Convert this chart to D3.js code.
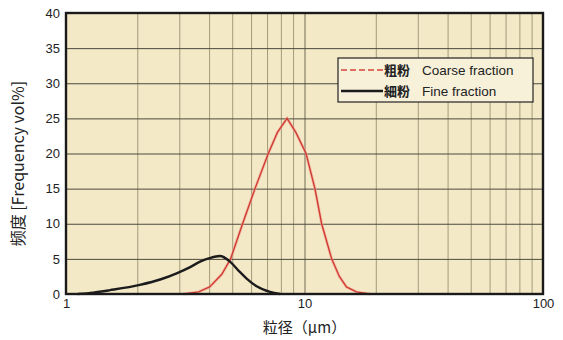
<!DOCTYPE html>
<html>
<head>
<meta charset="utf-8">
<script src="https://cdn.jsdelivr.net/npm/d3@7"></script>
<style>
	body { margin: 0; background: #fff; }
	text { font-family: "Liberation Sans", Arial, sans-serif; fill: #222; }
</style>
</head>
<body>
<div id="chart"></div>
<script>
// Data: [size in µm, frequency vol%]
const coarse = [
	[3.1, 0], [3.6, 0.3], [4.0, 1.0], [4.5, 2.8], [4.9, 5], [5.5, 10],
	[6.2, 15], [7.05, 20], [7.7, 23], [8.45, 25], [9.2, 23], [10.15, 20],
	[11.06, 15], [11.8, 10], [13.0, 5], [14.0, 2.5], [15.0, 1.0],
	[16.5, 0.3], [18.8, 0],
];
const fine = [
	[1.12, 0], [1.3, 0.2], [1.53, 0.55], [2.04, 1.3], [2.5, 2.1],
	[2.91, 2.95], [3.3, 3.8], [3.65, 4.6], [4.0, 5.1], [4.42, 5.4],
	[4.87, 4.6], [5.3, 3.3], [5.72, 2.2], [6.3, 1.1], [7.17, 0.3], [7.9, 0],
];
const yTicks = [0, 5, 10, 15, 20, 25, 30, 35, 40];
const xTicks = [1, 10, 100];
const legendItems = [
	{ jp: "粗粉", en: "Coarse fraction", color: "#d9443a", dash: "6,3", width: 1.6 },
	{ jp: "細粉", en: "Fine fraction", color: "#1c1c1c", dash: null, width: 2.4 },
];

const W = 563, H = 340;
const margin = { top: 13, right: 20, bottom: 46, left: 66 };
const width = W - margin.left - margin.right;
const height = H - margin.top - margin.bottom;

const svg = d3.select("#chart").append("svg")
	.attr("width", W).attr("height", H);

const g = svg.append("g")
	.attr("transform", `translate(${margin.left},${margin.top})`);

const x = d3.scaleLog().domain([1, 100]).range([0, width]);
const y = d3.scaleLinear().domain([0, 40]).range([height, 0]);

// background
g.append("rect")
	.attr("width", width).attr("height", height)
	.attr("fill", "#f4e9c7");

// minor vertical grid (log decades)
const minor = [];
for (let d = 1; d < 100; d *= 10)
	for (let k = 2; k <= 9; k++) minor.push(d * k);

g.append("g")
	.selectAll("line")
	.data(minor)
	.join("line")
	.attr("x1", (d) => x(d)).attr("x2", (d) => x(d))
	.attr("y1", 0).attr("y2", height)
	.attr("stroke", "#8f8868")
	.attr("stroke-width", 1)
	.attr("opacity", 0.8);

g.append("g")
	.attr("transform", `translate(0,${height})`)
	.call(d3.axisBottom(x).tickValues([10]).tickSize(-height).tickFormat(""))
	.call((s) => s.select(".domain").remove())
	.selectAll("line")
	.attr("stroke", "#6f6a55");

// horizontal grid
g.append("g")
	.call(d3.axisLeft(y).tickValues(yTicks.slice(1, -1)).tickSize(-width).tickFormat(""))
	.call((s) => s.select(".domain").remove())
	.selectAll("line")
	.attr("stroke", "#4d4a3e")
	.attr("stroke-width", 1);

// curves
const line = d3.line()
	.x((d) => x(d[0]))
	.y((d) => y(d[1]))
	.curve(d3.curveLinear);

g.append("path")
	.datum(coarse)
	.attr("d", line)
	.attr("fill", "none")
	.attr("stroke", "#f2a39a")
	.attr("stroke-width", 3)
	.attr("opacity", 0.6);

g.append("path")
	.datum(coarse)
	.attr("d", line)
	.attr("fill", "none")
	.attr("stroke", "#cf3d30")
	.attr("stroke-width", 1.4);

g.append("path")
	.datum(fine)
	.attr("d", d3.line().x((d) => x(d[0])).y((d) => y(d[1])).curve(d3.curveMonotoneX))
	.attr("fill", "none")
	.attr("stroke", "#1c1c1c")
	.attr("stroke-width", 2.4);

// frame
g.append("rect")
	.attr("width", width).attr("height", height)
	.attr("fill", "none")
	.attr("stroke", "#1a1a1a")
	.attr("stroke-width", 2.4);

// axes labels
const yAxis = g.append("g")
	.call(d3.axisLeft(y).tickValues(yTicks).tickSize(0).tickPadding(6));
yAxis.select(".domain").remove();
yAxis.selectAll("text")
	.style("font-size", "13px")
	.style("font-family", "Liberation Sans, Arial, sans-serif")
	.attr("fill", "#333");

const xAxis = g.append("g")
	.attr("transform", `translate(0,${height})`)
	.call(d3.axisBottom(x).tickValues(xTicks).tickFormat(d3.format("d")).tickSize(0).tickPadding(5));
xAxis.select(".domain").remove();
xAxis.selectAll("text")
	.style("font-size", "13px")
	.style("font-family", "Liberation Sans, Arial, sans-serif")
	.attr("fill", "#333");

svg.append("text")
	.attr("transform", `translate(24,${margin.top + height / 2 + 10}) rotate(-90)`)
	.attr("text-anchor", "middle")
	.style("font-size", "16px")
	.style("font-family", "'Noto Sans CJK SC', sans-serif")
	.text("频度 [Frequency vol%]");

svg.append("text")
	.attr("x", margin.left + width / 2)
	.attr("y", 333)
	.attr("text-anchor", "middle")
	.style("font-size", "15px")
	.style("font-family", "'Noto Sans CJK JP', sans-serif")
	.text("粒径（μm）");

// legend
const lg = g.append("g").attr("transform", `translate(${338 - margin.left},${58 - margin.top})`);
lg.append("rect")
	.attr("width", 195).attr("height", 44)
	.attr("fill", "#f8f1da")
	.attr("stroke", "#222")
	.attr("stroke-width", 1.2);

legendItems.forEach((d, i) => {
	const row = lg.append("g").attr("transform", `translate(0,${12 + i * 21})`);
	row.append("line")
		.attr("x1", 3).attr("x2", 45)
		.attr("stroke", d.color)
		.attr("stroke-width", d.width)
		.attr("stroke-dasharray", d.dash);
	row.append("text")
		.attr("x", 46).attr("dy", "0.35em")
		.style("font-size", "13px")
		.style("font-family", "'Noto Sans CJK JP', sans-serif")
		.style("font-weight", "bold")
		.text(d.jp);
	row.append("text")
		.attr("x", 84).attr("dy", "0.35em")
		.style("font-size", "13.5px")
		.text(d.en);
});
</script>
</body>
</html>
